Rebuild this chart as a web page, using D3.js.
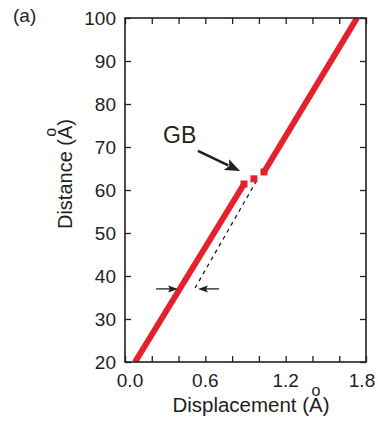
<!DOCTYPE html>
<html>
<head>
<meta charset="utf-8">
<script src="https://cdn.jsdelivr.net/npm/d3@7/dist/d3.min.js"></script>
<style>
  html, body { margin: 0; padding: 0; background: #fff; }
  svg { display: block; }
  text { font-family: "Liberation Sans", Arial, Helvetica, sans-serif; fill: #231f20; }
</style>
</head>
<body>
<svg id="chart" width="378" height="422"></svg>
<script>
// Displacement profile across the grain boundary (GB)
const lowerBranch = [[0.075, 20], [0.889, 61.4]];
const gbPoints = [[0.963, 62.6]];
const upperBranch = [[1.038, 64.2], [1.733, 100]];
// Upper branch extrapolated below the boundary
const guideLine = [[0.523, 37.2], [0.978, 61.9]];

const xTickValues = [0, 0.2, 0.4, 0.6, 0.8, 1.0, 1.2, 1.4, 1.6, 1.8];
const xTickLabels = ["0.0", "0.6", "1.2", "1.8"];
const yTickValues = [20, 30, 40, 50, 60, 70, 80, 90, 100];

const svg = d3.select("#chart");
const plotLeft = 125, plotRight = 366, plotTop = 18, plotBottom = 362;

const x = d3.scaleLinear().domain([0, 1.8]).range([plotLeft, plotRight]);
const y = d3.scaleLinear().domain([20, 100]).range([plotBottom, plotTop]);

const ink = "#231f20";
const red = "#e5222b";

svg.append("defs").append("clipPath").attr("id", "plot-clip")
  .append("rect").attr("x", plotLeft).attr("y", plotTop)
  .attr("width", plotRight - plotLeft).attr("height", plotBottom - plotTop);

// Data marks
const plot = svg.append("g").attr("clip-path", "url(#plot-clip)");
const line = d3.line().x(d => x(d[0])).y(d => y(d[1]));

plot.append("path").datum(guideLine)
  .attr("d", line).attr("fill", "none")
  .attr("stroke", ink).attr("stroke-width", 1.3)
  .attr("stroke-dasharray", "4,4");

[lowerBranch, upperBranch].forEach(seg => {
  plot.append("path").datum(seg)
    .attr("d", line).attr("fill", "none")
    .attr("stroke", red).attr("stroke-width", 6);
});

// square markers at the branch ends and the isolated GB point
const squares = [lowerBranch[1], upperBranch[0]].concat(gbPoints);
plot.selectAll("rect.pt").data(squares).enter().append("rect")
  .attr("class", "pt")
  .attr("x", d => x(d[0]) - 3.5).attr("y", d => y(d[1]) - 3.5)
  .attr("width", 7).attr("height", 7).attr("fill", red);

// Axes: ticks point inward on all four sides
const tickLen = 6;
svg.append("g").attr("transform", `translate(0,${plotBottom})`)
  .call(d3.axisBottom(x).tickValues(xTickValues).tickSizeInner(-tickLen).tickSizeOuter(0).tickFormat(""))
  .call(g => g.select(".domain").remove());
svg.append("g").attr("transform", `translate(0,${plotTop})`)
  .call(d3.axisTop(x).tickValues(xTickValues).tickSizeInner(-tickLen).tickSizeOuter(0).tickFormat(""))
  .call(g => g.select(".domain").remove());
svg.append("g").attr("transform", `translate(${plotLeft},0)`)
  .call(d3.axisLeft(y).tickValues(yTickValues).tickSizeInner(-tickLen).tickSizeOuter(0).tickFormat(""))
  .call(g => g.select(".domain").remove());
svg.append("g").attr("transform", `translate(${plotRight},0)`)
  .call(d3.axisRight(y).tickValues(yTickValues).tickSizeInner(-tickLen).tickSizeOuter(0).tickFormat(""))
  .call(g => g.select(".domain").remove());
svg.selectAll(".tick line").attr("stroke", ink).attr("stroke-width", 1.3);

svg.append("rect").attr("x", plotLeft).attr("y", plotTop)
  .attr("width", plotRight - plotLeft).attr("height", plotBottom - plotTop)
  .attr("fill", "none").attr("stroke", ink).attr("stroke-width", 1.6);

// Tick labels (end labels nudged inward so they stay on the page)
svg.append("g").selectAll("text").data(yTickValues).enter().append("text")
  .attr("x", plotLeft - 9).attr("y", d => y(d)).attr("dy", "0.35em")
  .attr("text-anchor", "end").attr("font-size", 19)
  .text(d => d);
const labelNudge = v => (v === 0 ? 5 : v === 1.8 ? -4 : 0);
svg.append("g").selectAll("text").data(xTickLabels).enter().append("text")
  .attr("x", d => x(+d) + labelNudge(+d)).attr("y", 387)
  .attr("text-anchor", "middle").attr("font-size", 19)
  .text(d => d);

// Axis titles: the ring of the angstrom sign is raised well above the A
function angstromTitle(sel, label, size) {
  const aW = 0.667 * size, oSize = 16, oW = 0.556 * oSize, lift = 16.5;
  sel.append("tspan").text(label + " (A");
  sel.append("tspan").attr("font-size", oSize)
    .attr("dx", -(aW / 2 + oW / 2)).attr("dy", -lift).text("o");
  sel.append("tspan")
    .attr("dx", aW / 2 - oW / 2).attr("dy", lift).text(")");
}
svg.append("text").attr("x", 251).attr("y", 412)
  .attr("text-anchor", "middle").attr("font-size", 20.5)
  .call(angstromTitle, "Displacement", 20.5);

svg.append("text")
  .attr("transform", "translate(72,174) rotate(-90)")
  .attr("text-anchor", "middle").attr("font-size", 20)
  .call(angstromTitle, "Distance", 20);

// Panel label
svg.append("text").attr("x", 13).attr("y", 22).attr("font-size", 19).text("(a)");

// GB annotation
svg.append("text").attr("x", x(0.284)).attr("y", y(70.9))
  .attr("font-size", 23).text("GB");

function arrow(x0, y0, x1, y1, len, half, width) {
  const a = Math.atan2(y1 - y0, x1 - x0);
  const bx = x1 - len * Math.cos(a), by = y1 - len * Math.sin(a);
  svg.append("line").attr("x1", x0).attr("y1", y0)
    .attr("x2", bx + 2 * Math.cos(a)).attr("y2", by + 2 * Math.sin(a))
    .attr("stroke", ink).attr("stroke-width", width);
  const nx = -Math.sin(a), ny = Math.cos(a);
  const nbx = x1 - len * 0.8 * Math.cos(a), nby = y1 - len * 0.8 * Math.sin(a);
  svg.append("path")
    .attr("d", `M${x1},${y1} L${bx + nx * half},${by + ny * half} L${nbx},${nby} L${bx - nx * half},${by - ny * half} Z`)
    .attr("fill", ink);
}
arrow(x(0.545), y(69.1), x(0.859), y(64.4), 15, 6, 2.6);
arrow(x(0.232), y(37.0), x(0.396), y(37.0), 10, 3.5, 1.3);
arrow(x(0.702), y(37.0), x(0.545), y(37.0), 10, 3.5, 1.3);
</script>
</body>
</html>
